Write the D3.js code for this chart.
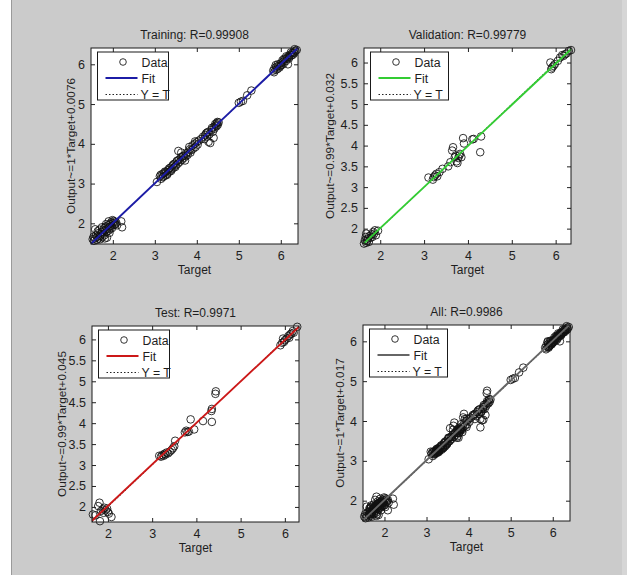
<!DOCTYPE html>
<html>
<head>
<meta charset="utf-8">
<script src="https://cdn.jsdelivr.net/npm/d3@7"></script>
<style>
  html, body { margin: 0; padding: 0; background: #fff; }
  svg { display: block; }
  text { font-family: "Liberation Sans", Arial, sans-serif; fill: #1e1e1e; }
</style>
</head>
<body>
<svg id="chart" width="627" height="575"></svg>
<script>
// [target, output] pairs
const trainingPoints = [
  [1.52, 1.60], [1.55, 1.56], [1.58, 1.62], [1.60, 1.70], [1.62, 1.58], [1.63, 1.66], [1.65, 1.75],
  [1.66, 1.62], [1.68, 1.84], [1.70, 1.68], [1.72, 1.72], [1.73, 1.78], [1.75, 1.66], [1.76, 1.80],
  [1.78, 1.74], [1.79, 1.88], [1.80, 1.70], [1.82, 1.84], [1.83, 1.92], [1.85, 1.78], [1.86, 1.64],
  [1.87, 1.86], [1.88, 1.95], [1.90, 1.82], [1.91, 1.90], [1.93, 1.98], [1.94, 1.86], [1.96, 2.02],
  [1.97, 1.94], [1.98, 1.88], [2.00, 2.00], [2.02, 2.06], [2.03, 1.96], [2.05, 2.04], [2.06, 1.98],
  [2.08, 2.02], [2.20, 2.05], [2.22, 1.90], [1.58, 1.85], [1.70, 1.60], [1.90, 2.05], [2.10, 1.95],
  [1.54, 1.66], [1.64, 1.80], [1.74, 1.90], [1.84, 1.98], [1.92, 1.76], [1.99, 2.08], [1.81, 1.62],
  [3.05, 3.04], [3.12, 3.18], [3.15, 3.12], [3.18, 3.24], [3.20, 3.18], [3.22, 3.26], [3.25, 3.20],
  [3.27, 3.30], [3.30, 3.25], [3.32, 3.34], [3.35, 3.30], [3.37, 3.40], [3.40, 3.36], [3.42, 3.45],
  [3.45, 3.40], [3.47, 3.50], [3.50, 3.46], [3.52, 3.56], [3.55, 3.50], [3.56, 3.82], [3.58, 3.60],
  [3.60, 3.55], [3.62, 3.66], [3.63, 3.78], [3.65, 3.60], [3.68, 3.70], [3.70, 3.65], [3.72, 3.58],
  [3.75, 3.76], [3.78, 3.72], [3.80, 3.80], [3.82, 3.92], [3.85, 3.78], [3.87, 3.84], [3.90, 3.96],
  [3.92, 3.88], [3.95, 4.00], [3.97, 3.92], [4.00, 4.04], [4.02, 3.98], [4.05, 4.08], [4.15, 4.18],
  [4.18, 4.12], [4.20, 4.22], [4.22, 4.26], [4.25, 4.18], [4.27, 4.30], [4.28, 4.05], [4.30, 4.24],
  [4.32, 4.02], [4.35, 4.35], [4.38, 4.30], [4.40, 4.42], [4.42, 4.38], [4.44, 4.50], [4.45, 4.46],
  [4.48, 4.52], [4.50, 4.48], [4.52, 4.54], [4.40, 4.15],
  [3.14, 3.22], [3.19, 3.16], [3.24, 3.30], [3.29, 3.22], [3.34, 3.38], [3.39, 3.32], [3.44, 3.48],
  [3.49, 3.42], [3.54, 3.58], [3.66, 3.68], [3.74, 3.70], [3.83, 3.86], [3.96, 4.06], [4.10, 4.12],
  [4.24, 4.28], [4.36, 4.40], [4.47, 4.44], [4.49, 4.55],
  [5.00, 5.03], [5.05, 5.06], [5.10, 5.08], [5.20, 5.22], [5.30, 5.34],
  [5.82, 5.84], [5.85, 5.90], [5.88, 5.86], [5.90, 5.94], [5.92, 5.88], [5.95, 5.96], [5.97, 5.92],
  [6.00, 6.02], [6.02, 5.98], [6.05, 6.06], [6.07, 6.02], [6.10, 6.12], [6.12, 6.08], [6.15, 6.16],
  [6.17, 6.00], [6.18, 6.20], [6.20, 6.18], [6.22, 6.24], [6.25, 6.22], [6.27, 6.28], [6.30, 6.30],
  [6.32, 6.28], [6.35, 6.34], [6.38, 6.36], [5.88, 5.98], [6.08, 6.14],
  [5.84, 5.80], [5.93, 6.00], [5.99, 5.96], [6.04, 6.10], [6.13, 6.20], [6.19, 6.14], [6.24, 6.30],
  [6.29, 6.24], [6.33, 6.38]
];

const validationPoints = [
  [1.63, 1.64], [1.65, 1.72], [1.67, 1.80], [1.68, 1.66], [1.70, 1.70], [1.72, 1.76], [1.74, 1.68],
  [1.75, 1.82], [1.78, 1.78], [1.80, 1.86], [1.82, 1.80], [1.84, 1.92], [1.86, 1.88], [1.88, 1.96],
  [1.90, 1.84], [1.95, 1.95], [1.68, 1.88],
  [3.10, 3.23], [3.20, 3.18], [3.22, 3.24], [3.25, 3.28], [3.28, 3.32], [3.30, 3.26], [3.35, 3.36],
  [3.42, 3.44], [3.55, 3.50], [3.60, 3.60], [3.64, 3.88], [3.66, 3.96], [3.70, 3.72], [3.72, 3.76],
  [3.74, 3.62], [3.76, 3.58], [3.78, 3.70], [3.80, 3.76], [3.82, 3.80], [3.85, 3.72], [3.89, 4.18],
  [3.91, 4.05], [4.10, 4.15], [4.13, 4.16], [4.28, 3.84], [4.30, 4.22],
  [5.88, 6.00], [5.90, 5.84], [5.92, 5.88], [5.95, 5.92], [5.98, 5.96], [6.05, 6.04], [6.10, 6.12],
  [6.15, 6.18], [6.18, 6.16], [6.22, 6.20], [6.25, 6.22], [6.30, 6.28], [6.35, 6.30]
];

const testPoints = [
  [1.66, 1.82], [1.72, 1.80], [1.78, 2.02], [1.81, 2.10], [1.82, 1.66], [1.84, 1.90], [1.88, 1.94],
  [1.90, 1.86], [1.92, 1.98], [1.95, 1.92], [1.98, 1.96], [2.00, 1.88], [2.02, 1.84], [2.08, 1.76],
  [3.16, 3.22], [3.20, 3.20], [3.23, 3.24], [3.26, 3.22], [3.28, 3.27], [3.30, 3.25], [3.33, 3.30],
  [3.36, 3.28], [3.40, 3.32], [3.44, 3.36], [3.47, 3.40], [3.50, 3.45], [3.52, 3.58], [3.74, 3.78],
  [3.77, 3.82], [3.80, 3.79], [3.83, 3.80], [3.87, 4.09], [3.95, 3.85], [4.15, 4.05], [4.34, 4.29],
  [4.35, 4.34], [4.35, 4.03], [4.43, 4.70], [4.44, 4.76],
  [5.90, 5.86], [5.94, 5.92], [5.96, 6.02], [5.98, 5.94], [6.00, 5.98], [6.04, 6.02], [6.08, 6.08],
  [6.10, 6.04], [6.12, 6.12], [6.15, 6.14], [6.18, 6.20], [6.20, 6.16], [6.28, 6.30]
];

const allPoints = trainingPoints.concat(validationPoints, testPoints);

const titles = ['Training: R=0.99908', 'Validation: R=0.99779', 'Test: R=0.9971', 'All: R=0.9986'];
const yLabels = ['Output~=1*Target+0.0076', 'Output~=0.99*Target+0.032', 'Output~=0.99*Target+0.045', 'Output~=1*Target+0.017'];
// fit line: [slope, intercept]
const fits = [[1, 0.0076], [0.99, 0.032], [0.99, 0.045], [1, 0.017]];
const domains = [[1.48, 6.41], [1.63, 6.35], [1.64, 6.32], [1.49, 6.41]];
const xTicks = [2, 3, 4, 5, 6];
const yTicksWhole = [2, 3, 4, 5, 6];
const yTicksHalf = [2, 2.5, 3, 3.5, 4, 4.5, 5, 5.5, 6];
const legendLabels = ['Data', 'Fit', 'Y = T'];

const panels = [
  { data: trainingPoints, yTicks: yTicksWhole, color: '#1c1ca6', x: 91, y: 48, labelOff: 16, legW: 71 },
  { data: validationPoints, yTicks: yTicksHalf, color: '#33cc33', x: 364, y: 48, labelOff: 30, legW: 78 },
  { data: testPoints, yTicks: yTicksHalf, color: '#cc1818', x: 92, y: 326, labelOff: 26, legW: 71 },
  { data: allPoints, yTicks: yTicksWhole, color: '#666666', x: 363, y: 325, labelOff: 19, legW: 78 },
];

const dim = { w: 207, h: 196, tick: 4, r: 3.8 };

const svg = d3.select('#chart');

// figure background
svg.append('rect').attr('width', 627).attr('height', 575).attr('fill', '#ffffff');
svg.append('rect').attr('x', 11).attr('y', 0).attr('width', 611).attr('height', 575).attr('fill', '#cbcbcb');
svg.append('rect').attr('x', 622).attr('y', 0).attr('width', 5).attr('height', 575).attr('fill', '#d6d6d6');
svg.append('line').attr('x1', 11.5).attr('x2', 11.5).attr('y1', 0).attr('y2', 575)
  .attr('stroke', '#9a9a9a').attr('stroke-width', 1);

panels.forEach((p, i) => {
  const g = svg.append('g').attr('transform', `translate(${p.x},${p.y})`);
  const dom = domains[i];

  const scaleX = d3.scaleLinear().domain(dom).range([0, dim.w]);
  const scaleY = d3.scaleLinear().domain(dom).range([dim.h, 0]);

  g.append('rect')
    .attr('width', dim.w)
    .attr('height', dim.h)
    .attr('fill', '#ffffff');

  const lineGenerator = d3.line()
    .x((d) => scaleX(d[0]))
    .y((d) => scaleY(d[1]));

  // data circles
  g.append('g')
    .selectAll('circle')
    .data(p.data)
    .enter()
    .append('circle')
    .attr('cx', (d) => scaleX(d[0]))
    .attr('cy', (d) => scaleY(d[1]))
    .attr('r', dim.r)
    .attr('fill', 'none')
    .attr('stroke', '#111')
    .attr('stroke-width', 0.85);

  // Y = T
  g.append('path')
    .attr('d', lineGenerator([[dom[0], dom[0]], [dom[1], dom[1]]]))
    .attr('fill', 'none')
    .attr('stroke', '#222')
    .attr('stroke-width', 1)
    .attr('stroke-dasharray', '1.5,2');

  // fit
  const [m, b] = fits[i];
  g.append('path')
    .attr('d', lineGenerator([[dom[0], m * dom[0] + b], [dom[1], m * dom[1] + b]]))
    .attr('fill', 'none')
    .attr('stroke', p.color)
    .attr('stroke-width', 1.9);

  // axes (ticks point inward on all four sides)
  const xAxis = g.append('g')
    .attr('transform', `translate(0,${dim.h})`)
    .call(d3.axisBottom(scaleX).tickValues(xTicks).tickSize(-dim.tick).tickPadding(7)
      .tickFormat(d3.format('~g')));
  const yAxis = g.append('g')
    .call(d3.axisLeft(scaleY).tickValues(p.yTicks).tickSize(-dim.tick).tickPadding(6)
      .tickFormat(d3.format('~g')));
  const xTop = g.append('g')
    .call(d3.axisTop(scaleX).tickValues(xTicks).tickSize(-dim.tick).tickFormat(''));
  const yRight = g.append('g')
    .attr('transform', `translate(${dim.w},0)`)
    .call(d3.axisRight(scaleY).tickValues(p.yTicks).tickSize(-dim.tick).tickFormat(''));

  [xAxis, yAxis, xTop, yRight].forEach((a) => {
    a.select('.domain').remove();
    a.selectAll('line').attr('stroke', '#222');
  });
  [xAxis, yAxis].forEach((a) => {
    a.selectAll('text')
      .attr('font-size', 12.5)
      .attr('fill', '#1e1e1e')
      .style('font-family', '"Liberation Sans", Arial, sans-serif');
  });

  g.append('rect')
    .attr('width', dim.w)
    .attr('height', dim.h)
    .attr('fill', 'none')
    .attr('stroke', '#1a1a1a')
    .attr('stroke-width', 1);

  // title and axis labels
  g.append('text')
    .attr('x', dim.w / 2)
    .attr('y', -9)
    .attr('text-anchor', 'middle')
    .attr('font-size', 12)
    .text(titles[i]);

  g.append('text')
    .attr('x', dim.w / 2)
    .attr('y', dim.h + 30)
    .attr('text-anchor', 'middle')
    .attr('font-size', 12)
    .text('Target');

  g.append('text')
    .attr('transform', `translate(${-p.labelOff},${dim.h / 2}) rotate(-90)`)
    .attr('text-anchor', 'middle')
    .attr('font-size', 11.8)
    .text(yLabels[i]);

  // legend
  const leg = g.append('g').attr('transform', 'translate(6.5,4)');
  leg.append('rect')
    .attr('width', p.legW)
    .attr('height', 48)
    .attr('fill', '#ffffff')
    .attr('stroke', '#1a1a1a')
    .attr('stroke-width', 1);

  leg.append('circle')
    .attr('cx', 25.5)
    .attr('cy', 10)
    .attr('r', 3.3)
    .attr('fill', 'none')
    .attr('stroke', '#111')
    .attr('stroke-width', 0.85);
  leg.append('line')
    .attr('x1', 8).attr('x2', 40).attr('y1', 26).attr('y2', 26)
    .attr('stroke', p.color).attr('stroke-width', 1.9);
  leg.append('line')
    .attr('x1', 8).attr('x2', 40).attr('y1', 42.5).attr('y2', 42.5)
    .attr('stroke', '#222').attr('stroke-width', 1).attr('stroke-dasharray', '1.5,2');

  leg.selectAll('text.lab')
    .data(legendLabels)
    .enter()
    .append('text')
    .attr('class', 'lab')
    .attr('x', (d, k) => (k === 2 ? 43 : 44))
    .attr('y', (d, k) => 14.5 + k * 16.3)
    .attr('font-size', 12.3)
    .text((d) => d);
});
</script>
</body>
</html>
